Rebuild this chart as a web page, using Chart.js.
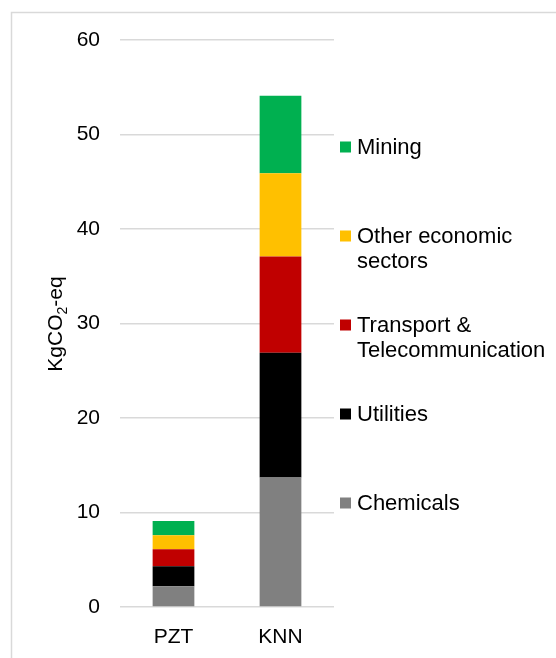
<!DOCTYPE html>
<html>
<head>
<meta charset="utf-8">
<script src="https://cdn.jsdelivr.net/npm/chart.js@4.4.1/dist/chart.umd.min.js"></script>
<style>
  html, body { margin: 0; padding: 0; background: #fff; }
  #wrap { position: relative; width: 556px; height: 658px; }
</style>
</head>
<body>
<div id="wrap"><canvas id="chart" width="556" height="658"></canvas></div>
<script>
// Data
const materials = ['PZT', 'KNN'];
const sectors = ['Chemicals', 'Utilities', 'Transport & Telecommunication', 'Other economic sectors', 'Mining'];
const legendLines = [['Chemicals'], ['Utilities'], ['Transport &', 'Telecommunication'], ['Other economic', 'sectors'], ['Mining']];
const chemicals = [2.2, 13.7];
const utilities = [2.1, 13.2];
const transport = [1.8, 10.2];
const otherSectors = [1.5, 8.8];
const mining = [1.5, 8.2];
const yTicks = [0, 10, 20, 30, 40, 50, 60];

const sectorColors = ['#808080', '#000000', '#c00000', '#ffc000', '#00b050'];
const fontFamily = '"Liberation Sans", Arial, sans-serif';
const values = [chemicals, utilities, transport, otherSectors, mining];

// Frame border, y axis title with subscript and the side legend
const extras = {
  id: 'extras',
  afterDraw(chart) {
    const ctx = chart.ctx;
    ctx.save();
    ctx.strokeStyle = '#d9d9d9';
    ctx.lineWidth = 1.5;
    ctx.beginPath();
    ctx.moveTo(11.5, 658);
    ctx.lineTo(11.5, 12.5);
    ctx.lineTo(556, 12.5);
    ctx.stroke();

    // y title
    ctx.fillStyle = '#000';
    ctx.translate(62, 324);
    ctx.rotate(-Math.PI / 2);
    ctx.textBaseline = 'alphabetic';
    ctx.font = '21px ' + fontFamily;
    const a = 'KgCO', b = '2', c = '-eq';
    const wa = ctx.measureText(a).width;
    const wc = ctx.measureText(c).width;
    ctx.font = '14px ' + fontFamily;
    const wb = ctx.measureText(b).width;
    let x = -(wa + wb + wc) / 2;
    ctx.font = '21px ' + fontFamily;
    ctx.fillText(a, x, 0);
    x += wa;
    ctx.font = '14px ' + fontFamily;
    ctx.fillText(b, x, 5);
    x += wb;
    ctx.font = '21px ' + fontFamily;
    ctx.fillText(c, x, 0);
    ctx.restore();

    // legend, top entry is last dataset
    ctx.save();
    ctx.font = '22px ' + fontFamily;
    ctx.textBaseline = 'middle';
    ctx.textAlign = 'left';
    const n = chart.data.datasets.length;
    for (let k = 0; k < n; k++) {
      const i = n - 1 - k;
      const yc = 147 + k * 89;
      ctx.fillStyle = chart.data.datasets[i].backgroundColor;
      ctx.fillRect(340, yc - 5.5, 11, 11);
      ctx.fillStyle = '#000';
      legendLines[i].forEach((line, j) => {
        ctx.fillText(line, 357, yc + 1 + j * 25);
      });
    }
    ctx.restore();
  }
};

const ctx = document.getElementById('chart').getContext('2d');
new Chart(ctx, {
  type: 'bar',
  data: {
    labels: materials,
    datasets: sectors.map((name, i) => ({
      label: name,
      data: values[i],
      backgroundColor: sectorColors[i],
      borderWidth: 0,
      barPercentage: 0.39,
      categoryPercentage: 1
    }))
  },
  options: {
    responsive: false,
    animation: false,
    layout: { padding: { left: 0, right: 222, top: 40, bottom: 0 } },
    plugins: {
      legend: { display: false },
      tooltip: { enabled: false }
    },
    scales: {
      x: {
        stacked: true,
        grid: { display: false },
        border: { display: false },
        ticks: { color: '#000', font: { family: fontFamily, size: 21 }, padding: 10 },
        afterFit(scale) { scale.height = 51; }
      },
      y: {
        stacked: true,
        min: 0,
        max: 60,
        afterBuildTicks(scale) { scale.ticks = yTicks.map(v => ({ value: v })); },
        grid: { color: '#d9d9d9', lineWidth: 1.5, drawTicks: false },
        border: { display: false },
        ticks: { color: '#000', font: { family: fontFamily, size: 21 }, padding: 20 },
        afterFit(scale) { scale.width = 120; }
      }
    }
  },
  plugins: [extras]
});
</script>
</body>
</html>
